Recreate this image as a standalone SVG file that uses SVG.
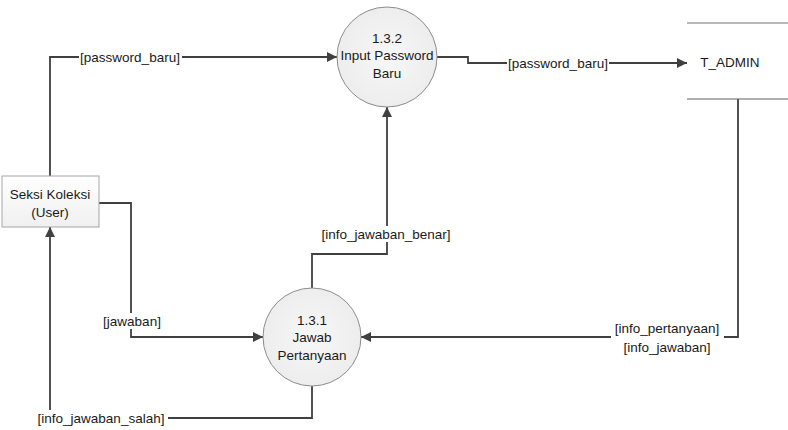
<svg xmlns="http://www.w3.org/2000/svg" width="788" height="430" viewBox="0 0 788 430">
<style>
text{font-family:"Liberation Sans","Open Sans",sans-serif;font-size:13.5px;fill:#1a1a1a;text-anchor:middle;dominant-baseline:central}
.c{stroke:#404040;stroke-width:1.8;fill:none}
.lb{fill:#fff}
.proc{fill:url(#g);stroke:#8c8c8c;stroke-width:1}
.ent{fill:url(#gb);stroke:#a6a6a6;stroke-width:1}
.st{stroke:#a0a0a0;stroke-width:1.5}
</style>
<defs>
<radialGradient id="g" cx="0.5" cy="0.5" r="0.6"><stop offset="0" stop-color="#f7f7f7"/><stop offset="1" stop-color="#ebebeb"/></radialGradient>
<linearGradient id="gb" x1="0" y1="0" x2="0" y2="1"><stop offset="0" stop-color="#ffffff"/><stop offset="1" stop-color="#f0f0f0"/></linearGradient>
<marker id="a" viewBox="0 0 10 10" refX="10" refY="5" markerWidth="10" markerHeight="10" markerUnits="userSpaceOnUse" orient="auto"><path d="M0,0 L10,5 L0,10 z" fill="#404040"/></marker>
</defs>
<rect width="788" height="430" fill="#fff"/>
<g id="connectors">
<path class="c" d="M50,176 V57 H337" marker-end="url(#a)"/>
<path class="c" d="M437,57 H468 V63 H687" marker-end="url(#a)"/>
<path class="c" d="M99,203 H131 V337 H263" marker-end="url(#a)"/>
<path class="c" d="M312,288 V254 H387 V107" marker-end="url(#a)"/>
<path class="c" d="M738,99 V337 H361" marker-end="url(#a)"/>
<path class="c" d="M312,386 V418 H50 V227" marker-end="url(#a)"/>
<rect class="lb" x="79" y="49" width="103" height="16"/>
<text x="130" y="57">[password_baru]</text>
<rect class="lb" x="507" y="55" width="102" height="16"/>
<text x="558" y="63">[password_baru]</text>
<rect class="lb" x="101" y="313" width="63" height="16"/>
<text x="132" y="321">[jawaban]</text>
<rect class="lb" x="318" y="226" width="137" height="16"/>
<text x="386" y="234">[info_jawaban_benar]</text>
<rect class="lb" x="611" y="329" width="113" height="28"/>
<text x="667" y="328">[info_pertanyaan]</text>
<text x="667" y="347">[info_jawaban]</text>
<rect class="lb" x="35" y="410" width="133" height="16"/>
<text x="101" y="418">[info_jawaban_salah]</text>
</g>
<g id="seksi_koleksi">
<rect class="ent" x="2" y="176" width="97" height="51"/>
<text x="50" y="194">Seksi Koleksi</text>
<text x="50" y="212">(User)</text>
</g>
<g id="p132">
<circle class="proc" cx="387" cy="57" r="50"/>
<text x="387" y="38">1.3.2</text>
<text x="387" y="55">Input Password</text>
<text x="387" y="73">Baru</text>
</g>
<g id="p131">
<circle class="proc" cx="312" cy="337" r="49"/>
<text x="312" y="320">1.3.1</text>
<text x="312" y="337">Jawab</text>
<text x="312" y="355">Pertanyaan</text>
</g>
<g id="t_admin">
<line class="st" x1="687" y1="23" x2="788" y2="23"/>
<line x1="687" y1="99" x2="788" y2="99" stroke="#606060" stroke-width="1.2"/>
<text x="730" y="62">T_ADMIN</text>
</g>
</svg>
